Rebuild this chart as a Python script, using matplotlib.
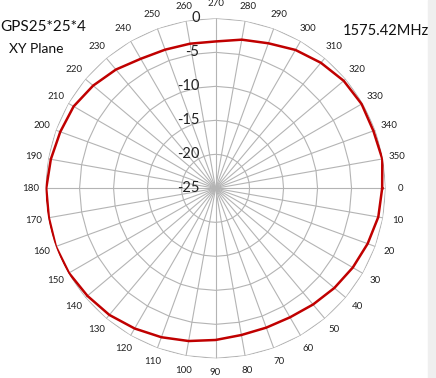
import numpy as np
import matplotlib
matplotlib.use('Agg')
import matplotlib.pyplot as plt
import matplotlib.transforms as mtransforms

plt.rcParams['font.family'] = ['Lato', 'DejaVu Sans']

# measured gain (dB) every 10 degrees, 0..350
angles = list(range(0, 360, 10))
gain = [-0.5, -0.7, -1.2, -1.7, -2.2, -2.7, -3.1, -3.2, -3.1,
        -2.7, -2.2, -1.7, -1.2, -0.7, -0.4, -0.1, 0.0, -0.1,
        -0.1, -0.4, -0.7, -0.9, -1.5, -2.2, -3.0, -3.3, -3.4,
        -3.4, -2.8, -2.3, -1.5, -0.9, -0.4, -0.2, -0.3, -0.1]
rings = [-25, -20, -15, -10, -5, 0]
angle_labels = [str(a) for a in angles]

fig = plt.figure(figsize=(4.36, 3.78), dpi=100)
ax = fig.add_axes([0.1044, 0.052, 0.78, 0.8995], projection='polar')
ax.set_theta_zero_location('E')
ax.set_theta_direction(-1)
ax.set_ylim(-25, 0)
ax.grid(False)
ax.spines['polar'].set_visible(False)

th = np.deg2rad(angles)
th_closed = np.append(th, th[0])

# Excel-style polygon rings and spokes
for r in rings[1:]:
    ax.plot(th_closed, [r] * len(th_closed), color='#b4b4b4', lw=0.8, zorder=1)
for t in th:
    ax.plot([t, t], [-25, 0], color='#b4b4b4', lw=0.8, zorder=1)

ax.plot(th_closed, gain + [gain[0]], color='#c00000', lw=1.8, zorder=3)

ax.set_xticks(th)
ax.set_xticklabels(angle_labels, fontsize=7, color='#222222')
ax.tick_params(axis='x', pad=0)
ax.set_yticks([])

off = mtransforms.offset_copy(ax.transData, fig=fig, x=-16, y=0, units='dots')
for r in rings:
    ax.text(np.deg2rad(270), r, str(r), transform=off, ha='right', va='center',
            fontsize=10.5, color='#222222', zorder=4)

fig.text(0.0, 0.928, 'GPS25*25*4', fontsize=11, ha='left', va='center', color='#111111')
fig.text(0.02, 0.870, 'XY Plane', fontsize=10, ha='left', va='center', color='#111111')
fig.text(0.985, 0.918, '1575.42MHz', fontsize=10.5, ha='right', va='center', color='#111111')

fig.patches.append(plt.Rectangle((0.982, 0), 0.02, 1, transform=fig.transFigure,
                                 color='#efefef', zorder=0))

fig.savefig('out.png', dpi=100)
